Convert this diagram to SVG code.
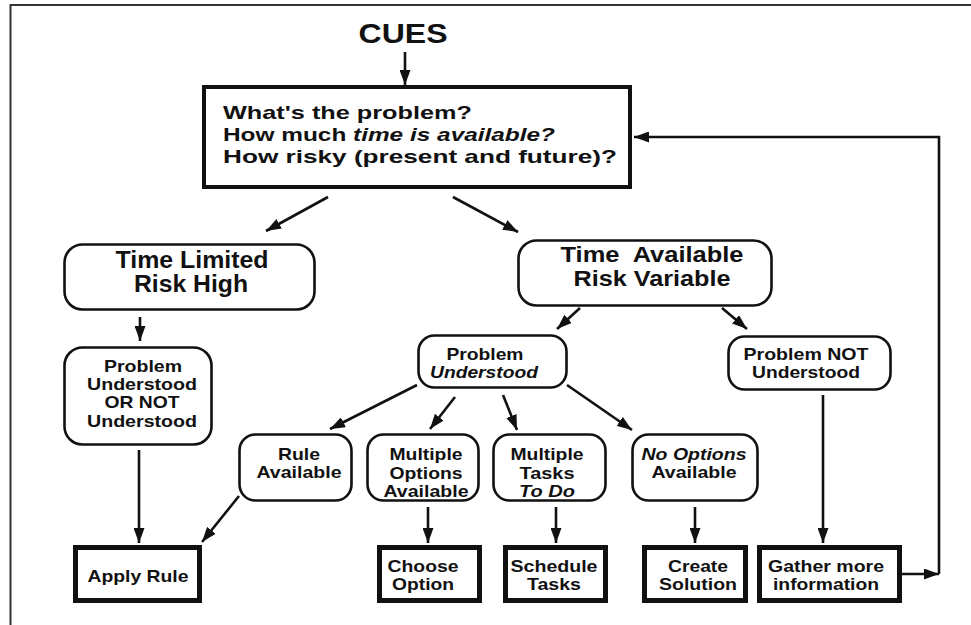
<svg xmlns="http://www.w3.org/2000/svg" width="971" height="625" viewBox="0 0 971 625">
<defs>
<style>
.t{font-family:"Liberation Sans",Arial,Helvetica,sans-serif;font-weight:bold;fill:#111;text-anchor:middle}
.l{text-anchor:start}
.i{font-style:italic}
.rb{fill:#fff;stroke:#111;stroke-width:2.6}
.tb{fill:#fff;stroke:#111;stroke-width:4}
.fb{fill:#fff;stroke:#111;stroke-width:5}
.c{fill:none;stroke:#111;stroke-width:2.6}
.s17{font-size:17px}
</style>
<marker id="ah" markerUnits="userSpaceOnUse" markerWidth="15" markerHeight="11" refX="15" refY="5.5" orient="auto" viewBox="0 0 15 11">
<path d="M0,0 L15,5.5 L0,11 z" fill="#111"/>
</marker>
</defs>
<rect width="971" height="625" fill="#fff"/>
<g id="frame" stroke="#333" stroke-width="2" fill="none">
<path d="M10.5,625 V5 H971"/>
</g>

<g id="connectors" class="c" marker-end="url(#ah)">
<line x1="405" y1="52" x2="405" y2="85"/>
<line x1="328" y1="197" x2="266" y2="231"/>
<line x1="453" y1="197" x2="518" y2="232"/>
<line x1="140" y1="317" x2="140" y2="341"/>
<line x1="139" y1="450" x2="139" y2="543"/>
<line x1="580" y1="308" x2="557" y2="329"/>
<line x1="722" y1="308" x2="747" y2="329"/>
<line x1="417" y1="385" x2="330" y2="429"/>
<line x1="455" y1="397" x2="430" y2="429"/>
<line x1="503" y1="395" x2="517" y2="430"/>
<line x1="567" y1="385" x2="632" y2="430"/>
<line x1="239" y1="496" x2="202" y2="542"/>
<line x1="428" y1="507" x2="428" y2="543"/>
<line x1="556" y1="507" x2="556" y2="543"/>
<line x1="695" y1="507" x2="695" y2="543"/>
<line x1="823" y1="395" x2="823" y2="543"/>
<line x1="902" y1="574" x2="939" y2="574"/>
<path d="M939,574 V137 H634"/>
</g>

<g id="cues">
<text class="t" x="403" y="43" font-size="28" textLength="89" lengthAdjust="spacingAndGlyphs">CUES</text>
</g>

<g id="questions">
<rect class="tb" x="204" y="87" width="426" height="100"/>
<text class="t l" x="223" y="119" font-size="18.5" textLength="249" lengthAdjust="spacingAndGlyphs">What's the problem?</text>
<text class="t l" x="223" y="141" font-size="18.5" textLength="332" lengthAdjust="spacingAndGlyphs">How much <tspan class="i">time is available?</tspan></text>
<text class="t l" x="223" y="163" font-size="18.5" textLength="394" lengthAdjust="spacingAndGlyphs">How risky (present and future)?</text>
</g>

<g id="time-limited">
<rect class="rb" x="64.5" y="244.5" width="250" height="65" rx="18"/>
<text class="t" x="192" y="268" font-size="23" textLength="153" lengthAdjust="spacingAndGlyphs">Time Limited</text>
<text class="t" x="191" y="292" font-size="23" textLength="114" lengthAdjust="spacingAndGlyphs">Risk High</text>
</g>

<g id="time-available">
<rect class="rb" x="518.5" y="240.5" width="253" height="65" rx="18"/>
<text class="t" x="652" y="262" font-size="22" textLength="183" lengthAdjust="spacingAndGlyphs" xml:space="preserve">Time  Available</text>
<text class="t" x="652" y="286" font-size="22" textLength="157" lengthAdjust="spacingAndGlyphs">Risk Variable</text>
</g>

<g id="understood-or-not">
<rect class="rb" x="64.5" y="347.5" width="147" height="97" rx="18"/>
<text class="t s17" x="143" y="372" textLength="78" lengthAdjust="spacingAndGlyphs">Problem</text>
<text class="t s17" x="142" y="390" textLength="110" lengthAdjust="spacingAndGlyphs">Understood</text>
<text class="t s17" x="142" y="408" textLength="75" lengthAdjust="spacingAndGlyphs">OR NOT</text>
<text class="t s17" x="142" y="427" textLength="110" lengthAdjust="spacingAndGlyphs">Understood</text>
</g>

<g id="problem-understood">
<rect class="rb" x="418.5" y="335.5" width="148" height="52" rx="16"/>
<text class="t s17" x="485" y="360" textLength="77" lengthAdjust="spacingAndGlyphs">Problem</text>
<text class="t s17 i" x="484" y="378" textLength="108" lengthAdjust="spacingAndGlyphs">Understood</text>
</g>

<g id="problem-not-understood">
<rect class="rb" x="728.5" y="336.5" width="162" height="53" rx="16"/>
<text class="t s17" x="806" y="360" textLength="125" lengthAdjust="spacingAndGlyphs">Problem NOT</text>
<text class="t s17" x="806" y="378" textLength="108" lengthAdjust="spacingAndGlyphs">Understood</text>
</g>

<g id="rule-available">
<rect class="rb" x="239.5" y="434.5" width="112" height="66" rx="16"/>
<text class="t s17" x="299" y="460" textLength="42" lengthAdjust="spacingAndGlyphs">Rule</text>
<text class="t s17" x="299" y="478" textLength="85" lengthAdjust="spacingAndGlyphs">Available</text>
</g>

<g id="multiple-options">
<rect class="rb" x="367.5" y="434.5" width="111" height="66" rx="16"/>
<text class="t s17" x="426" y="460" textLength="73" lengthAdjust="spacingAndGlyphs">Multiple</text>
<text class="t s17" x="426" y="479" textLength="73" lengthAdjust="spacingAndGlyphs">Options</text>
<text class="t s17" x="426" y="497" textLength="85" lengthAdjust="spacingAndGlyphs">Available</text>
</g>

<g id="multiple-tasks">
<rect class="rb" x="493.5" y="434.5" width="112" height="66" rx="16"/>
<text class="t s17" x="547" y="460" textLength="73" lengthAdjust="spacingAndGlyphs">Multiple</text>
<text class="t s17" x="547" y="479" textLength="55" lengthAdjust="spacingAndGlyphs">Tasks</text>
<text class="t s17 i" x="547" y="497" textLength="56" lengthAdjust="spacingAndGlyphs">To Do</text>
</g>

<g id="no-options">
<rect class="rb" x="632.5" y="434.5" width="125" height="66" rx="16"/>
<text class="t s17 i" x="694" y="460" textLength="105" lengthAdjust="spacingAndGlyphs">No Options</text>
<text class="t s17" x="694" y="478" textLength="85" lengthAdjust="spacingAndGlyphs">Available</text>
</g>

<g id="apply-rule">
<rect class="fb" x="75.5" y="547.5" width="124" height="53"/>
<text class="t s17" x="138" y="582" textLength="101" lengthAdjust="spacingAndGlyphs">Apply Rule</text>
</g>

<g id="choose-option">
<rect class="fb" x="379.5" y="547.5" width="100" height="53"/>
<text class="t s17" x="423" y="572" textLength="71" lengthAdjust="spacingAndGlyphs">Choose</text>
<text class="t s17" x="423" y="590" textLength="62" lengthAdjust="spacingAndGlyphs">Option</text>
</g>

<g id="schedule-tasks">
<rect class="fb" x="505.5" y="547.5" width="100" height="53"/>
<text class="t s17" x="554" y="572" textLength="87" lengthAdjust="spacingAndGlyphs">Schedule</text>
<text class="t s17" x="554" y="590" textLength="54" lengthAdjust="spacingAndGlyphs">Tasks</text>
</g>

<g id="create-solution">
<rect class="fb" x="644.5" y="547.5" width="101" height="53"/>
<text class="t s17" x="698" y="572" textLength="60" lengthAdjust="spacingAndGlyphs">Create</text>
<text class="t s17" x="698" y="590" textLength="78" lengthAdjust="spacingAndGlyphs">Solution</text>
</g>

<g id="gather-information">
<rect class="fb" x="759.5" y="547.5" width="140" height="53"/>
<text class="t s17" x="826" y="572" textLength="116" lengthAdjust="spacingAndGlyphs">Gather more</text>
<text class="t s17" x="826" y="590" textLength="106" lengthAdjust="spacingAndGlyphs">information</text>
</g>
</svg>
